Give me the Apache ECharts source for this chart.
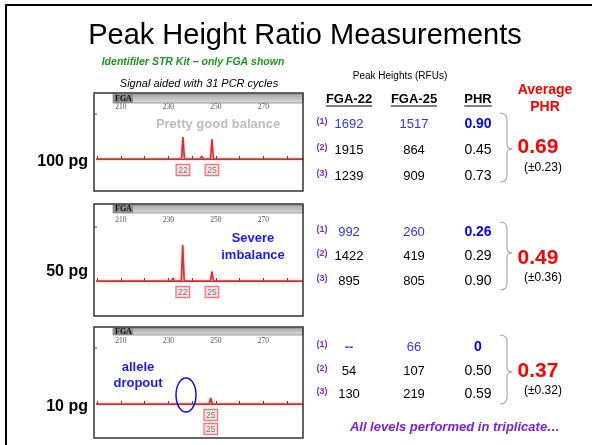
<!DOCTYPE html>
<html><head><meta charset="utf-8">
<script src="https://cdn.jsdelivr.net/npm/echarts@6/dist/echarts.min.js"></script>
<style>html,body{margin:0;padding:0;background:#fff}#c{width:592px;height:445px}</style>
</head><body><div id="c"></div>
<script>
// ---------------- DATA ----------------
const amounts = ['100 pg', '50 pg', '10 pg'];
const replicates = ['(1)', '(2)', '(3)'];
const fga22 = [[1692, 1915, 1239], [992, 1422, 895], [null, 54, 130]];
const fga25 = [[1517, 864, 909], [260, 419, 805], [66, 107, 219]];
const phr = [[0.90, 0.45, 0.73], [0.26, 0.29, 0.90], [0, 0.50, 0.59]];
const avgPhr = [0.69, 0.49, 0.37];
const sdPhr = [0.23, 0.36, 0.32];
const tickLabels = [210, 230, 250, 270];
// electropherogram of replicate (1): allele peaks (bp), labels, heights come from row (1)
const peakAlleles = [['22', '25'], ['22', '25'], ['25']];
const peakBp = [[236.2, 248.4], [236.1, 248.4], [247.9]];
const peakLabels = [['22', '25'], ['22', '25'], ['25\n25']];
const stutterBp = [[231.9, 244.1, 276.6], [232.0, 276.6], []];
const stutterRfu = [[150, 230, 70], [80, 30], []];

// ---------------- LAYOUT ----------------
const FF = '"Liberation Sans", Arial, sans-serif';
const panelX0 = 94, panelX1 = 303;
const panels = [
  {top: 93, bottom: 191, barB: 103, axisY: 114, baseY: 159, ymax: 3460},
  {top: 204, bottom: 316, barB: 213, axisY: 227, baseY: 281, ymax: 1490},
  {top: 327, bottom: 438, barB: 335, axisY: 348, baseY: 404, ymax: 620}
];
const xMin = 200, xMax = 286.7, gridLeft = 97, pxPerBp = 2.375;
const rowY = [[124, 150, 176], [232, 256, 281], [347, 371, 394]];
const colX = [349, 414, 478];
const avgY = [[147, 168], [258, 278], [371, 391]];
const braceY = [[113, 149, 182], [222, 253, 290], [335, 372, 404]];
const amountY = [162, 272, 407];

const cnv = document.createElement('canvas').getContext('2d');
function textW(t, font) { cnv.font = font; return cnv.measureText(t).width; }

function txt(t, x, y, font, fill, align) {
  return {type: 'text', x: x, y: y, z: 10, style: {text: t, font: font, fill: fill, align: align || 'center', verticalAlign: 'middle'}};
}
function curve(x1, y1, cx, cy, x2, y2, stroke, w) {
  return {type: 'bezierCurve', z: 10, shape: {x1: x1, y1: y1, x2: x2, y2: y2, cpx1: cx, cpy1: cy}, style: {fill: 'none', stroke: stroke, lineWidth: w}};
}
function cubic(x1, y1, c1x, c1y, c2x, c2y, x2, y2, stroke, w) {
  return {type: 'bezierCurve', z: 10, shape: {x1: x1, y1: y1, x2: x2, y2: y2, cpx1: c1x, cpy1: c1y, cpx2: c2x, cpy2: c2y}, style: {fill: 'none', stroke: stroke, lineWidth: w}};
}
function seg(x1, y1, x2, y2, stroke, w) {
  return {type: 'line', z: 10, shape: {x1: x1, y1: y1, x2: x2, y2: y2}, style: {stroke: stroke, lineWidth: w}};
}

const graphic = [];
graphic.push({type: 'rect', shape: {x: 6, y: 5, width: 700, height: 600}, style: {fill: 'none', stroke: '#000', lineWidth: 2}, z: 1});
graphic.push(txt('Peak Height Ratio Measurements', 305, 36, '29px ' + FF, '#000'));
graphic.push(txt('Identifiler STR Kit – only FGA shown', 193, 62, 'italic bold 10.5px ' + FF, '#1a9a1a'));
graphic.push(txt('Signal aided with 31 PCR cycles', 199, 84, 'italic 11px ' + FF, '#000'));
graphic.push(txt('Peak Heights (RFUs)', 400, 76, '10px ' + FF, '#000'));
const headers = ['FGA-22', 'FGA-25', 'PHR'];
headers.forEach((h, j) => {
  const f = 'bold 13px ' + FF;
  graphic.push(txt(h, colX[j], 99, f, '#000'));
  const w = textW(h, f);
  graphic.push(seg(colX[j] - w / 2, 106, colX[j] + w / 2, 106, '#000', 1));
});
graphic.push(txt('Average', 545, 90, 'bold 14px ' + FF, '#ff0000'));
graphic.push(txt('PHR', 545, 107, 'bold 14px ' + FF, '#ff0000'));

panels.forEach((p, i) => {
  graphic.push({type: 'rect', shape: {x: panelX0, y: p.top, width: panelX1 - panelX0, height: p.bottom - p.top}, style: {fill: 'none', stroke: '#333', lineWidth: 1.5}, z: 5});
  graphic.push({type: 'rect', shape: {x: 113, y: p.top + 1, width: panelX1 - 113, height: p.barB - p.top - 1},
    style: {fill: {type: 'linear', x: 0, y: 0, x2: 0, y2: 1, colorStops: [{offset: 0, color: '#a5a5a5'}, {offset: 1, color: '#dcdcdc'}]}, stroke: '#888', lineWidth: 0.8}, z: 4});
  graphic.push({type: 'rect', shape: {x: 113, y: p.top + 1, width: 20, height: p.barB - p.top - 1}, style: {fill: '#8c8c8c'}, z: 4});
  graphic.push(txt('FGA', 115, (p.top + p.barB) / 2 + 0.5, 'bold 8px "Liberation Serif", serif', '#111', 'left'));
  // axis line across the full panel width, under the library axis
  graphic.push(seg(panelX0, p.axisY, gridLeft, p.axisY, '#444', 1));
  graphic.push(txt(amounts[i], 88, amountY[i], 'bold 16px ' + FF, '#000', 'right'));
  for (let r = 0; r < 3; r++) {
    const y = rowY[i][r];
    const first = r === 0;
    const valColor = first ? '#3030ff' : '#000';
    graphic.push(txt(replicates[r], 322, y - 2, 'bold 9px ' + FF, '#7b2ad6'));
    const a = fga22[i][r];
    graphic.push(txt(a == null ? '--' : String(a), colX[0], y, (a == null ? 'bold ' : '') + '13px ' + FF, valColor));
    graphic.push(txt(String(fga25[i][r]), colX[1], y, '13px ' + FF, valColor));
    const v = phr[i][r];
    graphic.push(txt(v === 0 ? '0' : v.toFixed(2), colX[2], y, (first ? 'bold ' : '') + '14px ' + FF, first ? '#0000ff' : '#000'));
  }
  const b = braceY[i], bc = '#aaa', bw = 1.2;
  graphic.push(curve(500, b[0], 507, b[0], 507, b[0] + 7, bc, bw));
  graphic.push(seg(507, b[0] + 7, 507, b[1] - 5, bc, bw));
  graphic.push(curve(507, b[1] - 5, 507, b[1], 512, b[1], bc, bw));
  graphic.push(curve(512, b[1], 507, b[1], 507, b[1] + 5, bc, bw));
  graphic.push(seg(507, b[1] + 5, 507, b[2] - 7, bc, bw));
  graphic.push(curve(507, b[2] - 7, 507, b[2], 500, b[2], bc, bw));
  graphic.push(txt(avgPhr[i].toFixed(2), 538, avgY[i][0], 'bold 21px ' + FF, '#ff0000'));
  graphic.push(txt('(±' + sdPhr[i].toFixed(2) + ')', 543, avgY[i][1], '12px ' + FF, '#000'));
});

graphic.push(txt('Pretty good balance', 218, 124, 'bold 13px ' + FF, '#bdbdbd'));
graphic.push(txt('Severe', 253, 238, 'bold 13px ' + FF, '#1a1aff'));
graphic.push(txt('imbalance', 253, 255, 'bold 13px ' + FF, '#1a1aff'));
graphic.push(txt('allele', 138, 367, 'bold 13px ' + FF, '#1a1aff'));
graphic.push(txt('dropout', 138, 383, 'bold 13px ' + FF, '#1a1aff'));
(function () {
  const cx = 186, cy = 395, rx = 10, ry = 17, k = 0.5523, c = '#1010e0', w = 1.5;
  graphic.push(cubic(cx + rx, cy, cx + rx, cy - k * ry, cx + k * rx, cy - ry, cx, cy - ry, c, w));
  graphic.push(cubic(cx, cy - ry, cx - k * rx, cy - ry, cx - rx, cy - k * ry, cx - rx, cy, c, w));
  graphic.push(cubic(cx - rx, cy, cx - rx, cy + k * ry, cx - k * rx, cy + ry, cx, cy + ry, c, w));
  graphic.push(cubic(cx, cy + ry, cx + k * rx, cy + ry, cx + rx, cy + k * ry, cx + rx, cy, c, w));
})();
graphic.push(txt('All levels performed in triplicate…', 455, 427, 'italic bold 13px ' + FF, '#7b1fe0'));

// ---------------- AXES & SERIES ----------------
const grids = [], xAxes = [], yAxes = [], series = [];
panels.forEach((p, i) => {
  grids.push({left: gridLeft, width: (xMax - xMin) * pxPerBp, top: p.axisY, height: p.baseY - p.axisY});
  xAxes.push({type: 'value', gridIndex: i, min: xMin, max: xMax, interval: 10, position: 'top',
    axisLine: {show: true, lineStyle: {color: '#444', width: 1}},
    axisTick: {show: true, length: 3, lineStyle: {color: '#444'}},
    splitLine: {show: false},
    axisLabel: {show: true, margin: 3, fontSize: 7.5, fontFamily: '"Liberation Serif", serif', color: '#555', showMaxLabel: false,
      formatter: v => tickLabels.indexOf(Math.round(v * 10) / 10) >= 0 ? String(v) : ''}});
  yAxes.push({type: 'value', gridIndex: i, min: 0, max: p.ymax, show: false, splitLine: {show: false}});
  const pk = [];
  peakAlleles[i].forEach((al, k) => {
    pk.push([peakBp[i][k], al === '22' ? fga22[i][0] : fga25[i][0]]);
  });
  stutterBp[i].forEach((bp, k) => pk.push([bp, stutterRfu[i][k]]));
  pk.sort((a, b) => a[0] - b[0]);
  const trace = [[xMin - 1.3, 0]];
  pk.forEach(([bp, h]) => { trace.push([bp - 0.6, 0], [bp, h], [bp + 0.6, 0]); });
  trace.push([xMax, 0]);
  series.push({type: 'line', xAxisIndex: i, yAxisIndex: i, data: trace, symbol: 'none', clip: false,
    lineStyle: {color: '#cc3535', width: 1.6, shadowColor: 'rgba(255,110,110,0.7)', shadowBlur: 3}});
  series.push({type: 'scatter', xAxisIndex: i, yAxisIndex: i, symbolSize: 0,
    data: peakBp[i].map((bp, k) => ({value: [bp, 0], name: peakLabels[i][k]})),
    label: {show: true, position: 'bottom', distance: 4, formatter: pp => pp.name.split('\n').map(s => '{a|' + s + '}').join('\n'),
      rich: {a: {fontSize: 8.5, fontFamily: FF, color: '#555', backgroundColor: '#fde4e4', borderColor: '#e25a5a', borderWidth: 1.2, padding: [1, 1.5, 0, 1.5], lineHeight: 14}}}});
});

const chart = echarts.init(document.getElementById('c'), null, {renderer: 'canvas'});
chart.setOption({animation: false, backgroundColor: '#fff', grid: grids, xAxis: xAxes, yAxis: yAxes, series: series, graphic: graphic});
</script></body></html>
